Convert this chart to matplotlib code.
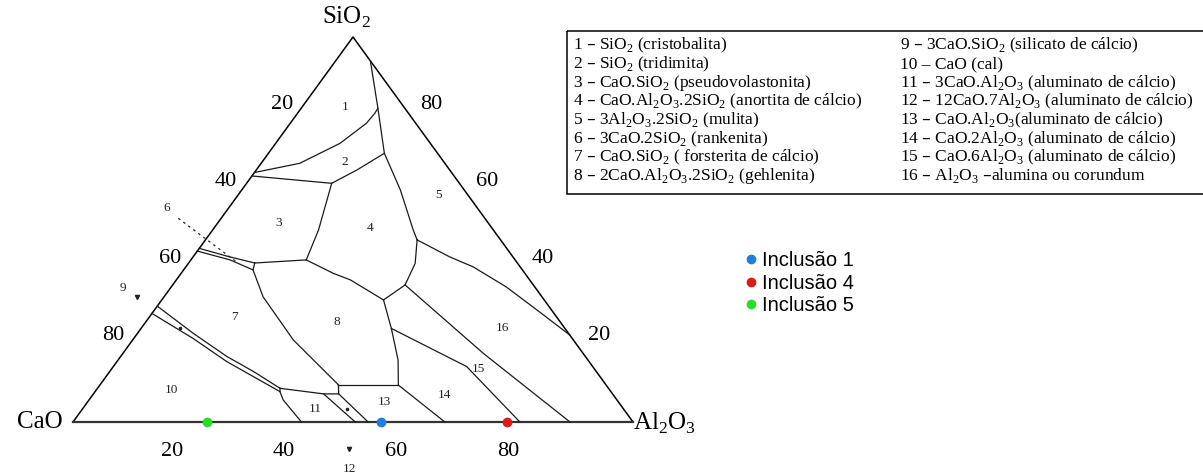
import matplotlib.pyplot as plt
import matplotlib.transforms as mtransforms
from matplotlib.patches import Rectangle

# Phase-field boundaries of the CaO-Al2O3-SiO2 system, as (%Al2O3, %SiO2); CaO is the rest
b_1_2 = [(0, 64.8), (6.9, 67.2), (11.5, 72.4), (13.6, 77.6), (13.8, 80.2), (13.7, 81.5)]
b_12_5 = [(6.2, 93.8), (13.7, 81.5), (20.7, 69.8), (28.3, 60.3), (35.8, 49.9), (37.8, 47.3)]
b_2_34 = [(0, 63.9), (15.2, 62.0), (18.0, 65.5), (20.7, 69.8)]
b_3_4 = [(15.2, 62.0), (18.9, 49.9), (20.6, 42.1)]
b_3_8 = [(11.8, 41.3), (20.6, 42.1)]
b_4_8 = [(20.6, 42.1), (27.2, 38.6), (31.1, 36.9), (39.6, 31.7)]
b_4_16 = [(37.8, 47.3), (40.5, 41.2), (41.5, 35.6), (39.6, 31.7)]
b_5_16 = [(37.8, 47.3), (45.8, 42.9), (51.3, 40.3), (59.8, 35.1), (68.3, 29.1), (77.4, 22.6)]
b_6_top = [(0, 45.1), (6.5, 42.9), (11.8, 41.3)]
b_6_bottom = [(0, 44.4), (7.0, 42.1), (12.4, 39.5)]
b_7_8 = [(11.8, 41.3), (12.4, 39.5), (17.7, 32.5), (28.7, 21.3), (42.1, 10.05), (42.6, 9.6)]
b_13_top = [(42.6, 9.6), (53.3, 9.6)]
b_8_13 = [(39.6, 31.7), (44.7, 24.3), (50.0, 16.1), (53.3, 9.6)]
b_13_14 = [(53.3, 9.6), (66.4, 0)]
b_14_15 = [(44.7, 24.3), (63.1, 14.4), (79.8, 0)]
b_15_16 = [(41.5, 35.6), (64.4, 17.8), (88.75, 0)]
b_9_top = [(0, 30.1), (10.0, 23.0), (19.0, 17.0), (25.7, 13.1), (32.6, 8.75)]
b_9_bottom = [(0, 28.2), (10.6, 21.7), (19.6, 15.7), (26.3, 11.8), (33.0, 7.9)]
b_10_11 = [(32.6, 8.75), (33.0, 7.9), (34.7, 5.7), (40.8, 0)]
b_11_top = [(32.6, 8.75), (41.1, 7.3), (43.8, 7.3), (42.6, 9.6)]
b_11_12 = [(41.1, 7.3), (50.4, 0)]
b_12_13 = [(43.8, 7.3), (52.7, 0)]
boundaries = [b_1_2, b_12_5, b_2_34, b_3_4, b_3_8, b_4_8, b_4_16, b_5_16,
              b_6_top, b_6_bottom, b_7_8, b_13_top, b_8_13, b_13_14, b_14_15,
              b_15_16, b_9_top, b_9_bottom, b_10_11, b_11_top, b_11_12, b_12_13]

# field numbers and where they sit
field_labels = ['1', '2', '3', '4', '5', '7', '8', '10', '11', '13', '14', '15', '16', '6', '9', '12']
field_al = [7.7, 14.8, 10.8, 27.8, 35.7, 15.2, 34.1, 13.5, 41.6, 53.0, 62.9, 65.5, 64.6, -11.0, -8.4, 55.6]
field_si = [81.7, 67.6, 51.8, 50.4, 59.0, 27.4, 26.1, 8.3, 3.3, 5.1, 7.0, 13.8, 24.3, 55.6, 34.7, -12.3]

# leader for field 6 and small pointers for the narrow fields
leader_6 = [(-7.65, 52.9), (8.4, 41.6)]
pointer_al = [-4.7, 52.8]
pointer_si = [32.4, -7.1]
dot_al = [6.9, 47.3]
dot_si = [24.3, 3.3]

ticks = [20, 40, 60, 80]

# inclusions on the CaO-Al2O3 join
inc_names = ['Inclusão 1', 'Inclusão 4', 'Inclusão 5']
inc_al = [55.0, 77.5, 24.0]
inc_si = [0.0, 0.0, 0.0]
inc_colors = ['#1f7fe0', '#e01818', '#28dc28']

key_left = [
    r'1 – SiO$_\mathregular{2}$ (cristobalita)',
    r'2 – SiO$_\mathregular{2}$ (tridimita)',
    r'3 – CaO.SiO$_\mathregular{2}$ (pseudovolastonita)',
    r'4 – CaO.Al$_\mathregular{2}$O$_\mathregular{3}$.2SiO$_\mathregular{2}$ (anortita de cálcio)',
    r'5 – 3Al$_\mathregular{2}$O$_\mathregular{3}$.2SiO$_\mathregular{2}$ (mulita)',
    r'6 – 3CaO.2SiO$_\mathregular{2}$ (rankenita)',
    r'7 – CaO.SiO$_\mathregular{2}$ ( forsterita de cálcio)',
    r'8 – 2CaO.Al$_\mathregular{2}$O$_\mathregular{3}$.2SiO$_\mathregular{2}$ (gehlenita)',
]
key_right = [
    r'9 – 3CaO.SiO$_\mathregular{2}$ (silicato de cálcio)',
    '10 – CaO (cal)',
    r'11 – 3CaO.Al$_\mathregular{2}$O$_\mathregular{3}$ (aluminato de cálcio)',
    r'12 – 12CaO.7Al$_\mathregular{2}$O$_\mathregular{3}$ (aluminato de cálcio)',
    r'13 – CaO.Al$_\mathregular{2}$O$_\mathregular{3}$(aluminato de cálcio)',
    r'14 – CaO.2Al$_\mathregular{2}$O$_\mathregular{3}$ (aluminato de cálcio)',
    r'15 – CaO.6Al$_\mathregular{2}$O$_\mathregular{3}$ (aluminato de cálcio)',
    r'16 – Al$_\mathregular{2}$O$_\mathregular{3}$ –alumina ou corundum',
]

plt.rcParams['font.family'] = 'Liberation Serif'
W, H = 1203, 475
fig = plt.figure(figsize=(W / 100, H / 100), dpi=100)
ax = fig.add_axes([0, 0, 1, 1])
# ternary -> cartesian: x = Al + Si/2, y = Si (fractions); limits stretch the triangle
ax.set_xlim(-73 / 560, 1130 / 560)
ax.set_ylim(-53 / 385, 422 / 385)
ax.axis('off')

# layout helper: figure positions given in pixels from the top-left
pix = mtransforms.Affine2D().scale(1 / W, -1 / H).translate(0, 1) + fig.transFigure


def tern(al, si):
    al = [a / 100 for a in al] if isinstance(al, list) else al / 100
    si = [s / 100 for s in si] if isinstance(si, list) else si / 100
    if isinstance(al, list):
        return [a + s / 2 for a, s in zip(al, si)], si
    return al + si / 2, si


# outer triangle
ax.plot(*tern([0, 100, 0, 0], [0, 0, 100, 0]), color='black', lw=1.1)
ax.plot(*tern([0, 100], [0, 0]), color='#333333', lw=1.6)

for line in boundaries:
    al, si = zip(*line)
    ax.plot(*tern(list(al), list(si)), color='#1a1a1a', lw=0.9)

al, si = zip(*leader_6)
ax.plot(*tern(list(al), list(si)), color='#222222', lw=0.9, ls=(0, (2, 3)))
ax.plot(*tern(pointer_al, pointer_si), 'v', color='#222222', ms=3)
ax.plot(*tern(dot_al, dot_si), 'o', color='#222222', ms=1.6)

for t, a, s in zip(field_labels, field_al, field_si):
    ax.text(*tern(a, s), t, fontsize=9.5, ha='center', va='center', color='#222222')

# edge numbers: CaO on the left, SiO2 on the right, Al2O3 along the base
for v in ticks:
    ax.annotate(str(v), tern(0, 100 - v), xytext=(-11, 7), textcoords='offset points',
                ha='center', va='center', fontsize=16)
    ax.annotate(str(v), tern(100 - v, v), xytext=(16, 7), textcoords='offset points',
                ha='center', va='center', fontsize=16)
    ax.annotate(str(v), tern(v, 0), xytext=(-9.5, -21.5), textcoords='offset points',
                ha='center', va='center', fontsize=16)

ax.annotate(r'SiO$_\mathregular{2}$', tern(0, 100), xytext=(-5, 14), textcoords='offset points',
            ha='center', va='center', fontsize=18)
ax.annotate('CaO', tern(0, 0), xytext=(-24, 0), textcoords='offset points',
            ha='center', va='center', fontsize=18)
ax.annotate(r'Al$_\mathregular{2}$O$_\mathregular{3}$', tern(100, 0), xytext=(23, -1),
            textcoords='offset points', ha='center', va='center', fontsize=18)

for name, a, s, c in zip(inc_names, inc_al, inc_si, inc_colors):
    ax.plot(*tern(a, s), 'o', color=c, ms=6, label=name, zorder=5)

leg = ax.legend(loc='upper left', bbox_to_anchor=(728, 233), bbox_transform=pix,
                frameon=False, handlelength=0.5, handletextpad=0.3, labelspacing=0.17,
                prop={'family': 'Liberation Sans', 'size': 14.5})

# key to the numbered fields
fig.add_artist(Rectangle((566.5, 30.5), 660, 163, transform=pix, fill=False,
                         edgecolor='black', lw=1.1))
for i, t in enumerate(key_left):
    fig.text(573, 49.5 + i * 18.7, t, transform=pix, fontsize=12.5, va='baseline')
for i, t in enumerate(key_right):
    fig.text(900, 49.5 + i * 18.7, t, transform=pix, fontsize=12.5, va='baseline')

fig.savefig('out.png', dpi=100)
